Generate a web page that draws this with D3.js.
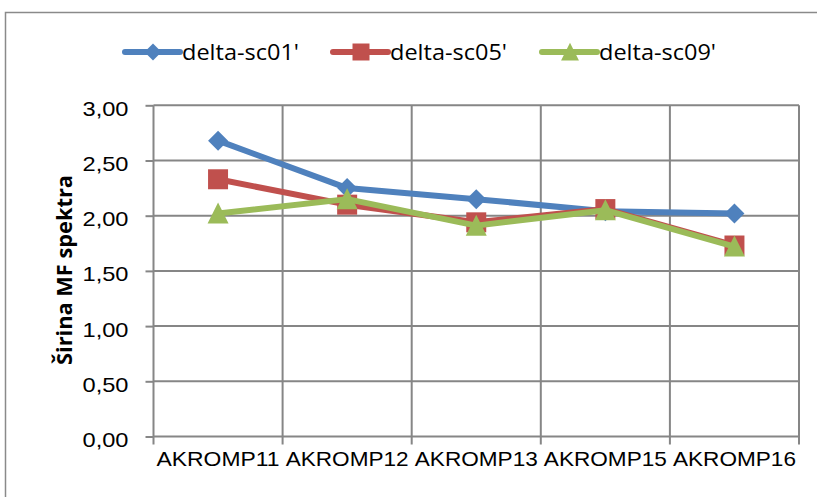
<!DOCTYPE html>
<html><head><meta charset="utf-8">
<script src="https://cdn.jsdelivr.net/npm/d3@7"></script>
<style>
html,body{margin:0;padding:0;background:#fff;overflow:hidden}
svg{display:block;font-family:"Open Sans","Liberation Sans",Arial,sans-serif}
</style></head>
<body><svg id="c" width="817" height="497"></svg>
<script>
const categories = ["AKROMP11","AKROMP12","AKROMP13","AKROMP15","AKROMP16"];
const seriesNames = ["delta-sc01'","delta-sc05'","delta-sc09'"];
const sc01 = [2.68, 2.25, 2.15, 2.04, 2.02];
const sc05 = [2.33, 2.10, 1.94, 2.06, 1.73];
const sc09 = [2.02, 2.15, 1.91, 2.05, 1.72];
const yTicks = [0, 0.5, 1, 1.5, 2, 2.5, 3];
const colors = ["#4F81BD", "#C0504D", "#9BBB59"];
const markers = ["diamond", "square", "triangle"];
const series = [sc01, sc05, sc09];

(function(){
const svg = d3.select("#c");
svg.append("rect").attr("x",5.5).attr("y",12.5).attr("width",830).attr("height",520)
  .attr("fill","#fff").attr("stroke","#8a8a8a").attr("stroke-width",1.5);

const pL = 153.5, pR = 799, pT = 105.3, pB = 436.5;
const x = d3.scaleBand().domain(categories).range([pL, pR]);
const y = d3.scaleLinear().domain([0, 3]).range([pB, pT]);
const grid = "#868686";

const ya = svg.append("g").attr("transform",`translate(${pL},0)`)
  .call(d3.axisLeft(y).tickValues(yTicks).tickSize(8).tickPadding(17)
    .tickFormat(d => d3.format(".2f")(d).replace(".", ",")));
ya.select(".domain").remove();
ya.selectAll(".tick line").attr("stroke", grid).attr("stroke-width",2);
ya.selectAll(".tick text").attr("font-size",21).attr("fill","#000").attr("dy","0.48em")
  .attr("textLength",46).attr("lengthAdjust","spacingAndGlyphs");
svg.append("g").selectAll("line").data(yTicks).join("line")
  .attr("x1",pL).attr("x2",pR).attr("y1",d=>y(d)).attr("y2",d=>y(d))
  .attr("stroke",grid).attr("stroke-width",2);

const bounds = categories.map(c => x(c)).concat([pR]);
svg.append("g").selectAll("line").data(bounds).join("line")
  .attr("x1",d=>d).attr("x2",d=>d).attr("y1",pT).attr("y2",pB+8)
  .attr("stroke",grid).attr("stroke-width",2);

const xa = svg.append("g").attr("transform",`translate(0,${pB})`)
  .call(d3.axisBottom(x).tickSize(0).tickPadding(15));
xa.select(".domain").remove();
xa.selectAll(".tick text").attr("font-size",21).attr("fill","#000").attr("dy","0.71em")
  .attr("textLength",123).attr("lengthAdjust","spacingAndGlyphs");

svg.append("text").attr("transform",`translate(72,270) rotate(-90)`)
  .attr("text-anchor","middle").attr("font-size",20.5).attr("font-weight","bold")
  .attr("textLength",190).attr("lengthAdjust","spacingAndGlyphs")
  .text("Širina MF spektra");

function markerPath(type, s) {
  const p = d3.path();
  if (type === "diamond") { p.moveTo(0,-s); p.lineTo(s,0); p.lineTo(0,s); p.lineTo(-s,0); }
  else if (type === "square") { p.rect(-s,-s,2*s,2*s); }
  else { p.moveTo(0,-s*1.1); p.lineTo(s*1.05,s); p.lineTo(-s*1.05,s); }
  p.closePath();
  return p.toString();
}
const sizes = [10, 10, 10];
const line = d3.line().x((d,i)=>x(categories[i]) + x.bandwidth()/2).y(d=>y(d));
series.forEach((vals, k) => {
  const g = svg.append("g");
  g.append("path").attr("d", line(vals)).attr("fill","none")
    .attr("stroke", colors[k]).attr("stroke-width",6).attr("stroke-linejoin","round");
  g.selectAll("path.m").data(vals).join("path").attr("class","m")
    .attr("transform",(d,i)=>`translate(${x(categories[i]) + x.bandwidth()/2},${y(d)})`)
    .attr("d", markerPath(markers[k], sizes[k])).attr("fill", colors[k]);
});

const legX = [125, 333, 542];
seriesNames.forEach((n, k) => {
  const g = svg.append("g").attr("transform",`translate(${legX[k]},52)`);
  g.append("line").attr("x1",0).attr("x2",55).attr("stroke",colors[k]).attr("stroke-width",6).attr("stroke-linecap","round");
  g.append("path").attr("transform",`translate(28,0)`).attr("d", markerPath(markers[k], 8.5)).attr("fill",colors[k]);
  g.append("text").attr("x",57).attr("y",8).attr("font-size",21).attr("fill","#000")
    .attr("textLength",117).attr("lengthAdjust","spacingAndGlyphs").text(n);
});
})();
</script></body></html>
